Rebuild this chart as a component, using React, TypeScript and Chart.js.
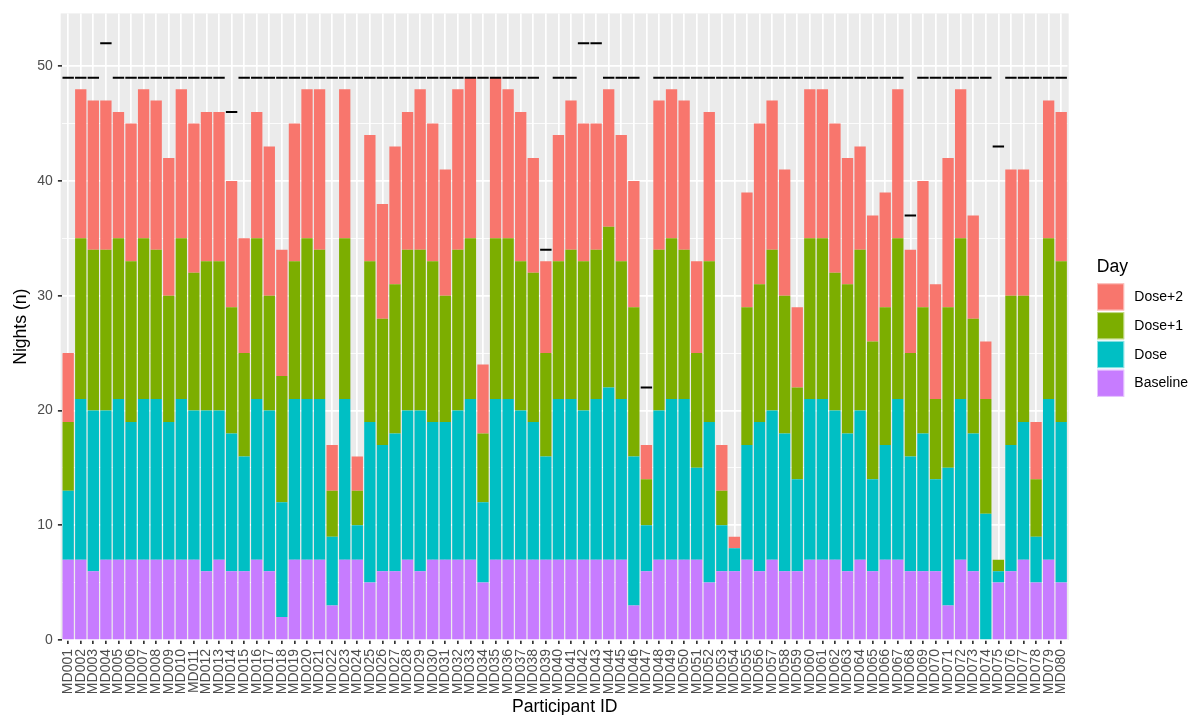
import React, { useEffect, useRef } from 'react';
import { Chart, registerables } from 'chart.js';

Chart.register(...registerables);

const participants = [
  'MD001','MD002','MD003','MD004','MD005','MD006','MD007','MD008','MD009','MD010',
  'MD011','MD012','MD013','MD014','MD015','MD016','MD017','MD018','MD019','MD020',
  'MD021','MD022','MD023','MD024','MD025','MD026','MD027','MD028','MD029','MD030',
  'MD031','MD032','MD033','MD034','MD035','MD036','MD037','MD038','MD039','MD040',
  'MD041','MD042','MD043','MD044','MD045','MD046','MD047','MD048','MD049','MD050',
  'MD051','MD052','MD053','MD054','MD055','MD056','MD057','MD058','MD059','MD060',
  'MD061','MD062','MD063','MD064','MD065','MD066','MD067','MD068','MD069','MD070',
  'MD071','MD072','MD073','MD074','MD075','MD076','MD077','MD078','MD079','MD080',
];

const baseline = [
  7,7,6,7,7,7,7,7,7,7, 7,6,7,6,6,7,6,2,7,7,
  7,3,7,7,5,6,6,7,6,7, 7,7,7,5,7,7,7,7,7,7,
  7,7,7,7,7,3,6,7,7,7, 7,5,6,6,7,6,7,6,6,7,
  7,7,6,7,6,7,7,6,6,6, 3,7,6,0,5,6,7,5,7,5,
];

const dose = [
  6,14,14,13,14,12,14,14,12,14, 13,14,13,12,10,14,14,10,14,14,
  14,6,14,3,14,11,12,13,14,12, 12,13,14,7,14,14,13,12,9,14,
  14,13,14,15,14,13,4,13,14,14, 8,14,4,2,10,13,13,12,8,14,
  14,13,12,13,8,10,14,10,12,8, 12,14,12,11,1,11,12,4,14,14,
];

const dosePlus1 = [
  6,14,14,14,14,14,14,13,11,14, 12,13,13,11,9,14,10,11,12,14,
  13,4,14,3,14,11,13,14,14,14, 11,14,14,6,14,14,13,13,9,12,
  13,13,13,14,12,13,4,14,14,13, 10,14,3,0,12,12,14,12,8,14,
  14,12,13,14,12,12,14,9,11,7, 14,14,10,10,1,13,11,5,14,14,
];

const dosePlus2 = [
  6,13,13,13,11,12,13,13,12,13, 13,13,13,11,10,11,13,11,12,13,
  14,4,13,3,11,10,12,12,14,12, 11,14,14,6,14,13,13,10,8,11,
  13,12,11,12,11,11,3,13,13,13, 8,13,4,1,10,14,13,11,7,13,
  13,13,11,9,11,10,13,9,11,10, 13,13,9,5,0,11,11,5,12,13,
];

const expectedNights = [
  49,49,49,52,49,49,49,49,49,49, 49,49,49,46,49,49,49,49,49,49,
  49,49,49,49,49,49,49,49,49,49, 49,49,49,49,49,49,49,49,34,49,
  49,52,52,49,49,49,22,49,49,49, 49,49,49,49,49,49,49,49,49,49,
  49,49,49,49,49,49,49,37,49,49, 49,49,49,49,43,49,49,49,49,49,
];

const yTicks = [0, 5, 10, 15, 20, 25, 30, 35, 40, 45, 50];

const seriesNames = ['Baseline', 'Dose', 'Dose+1', 'Dose+2'];
const seriesColors = ['#C77CFF', '#00BFC4', '#7CAE00', '#F8766D'];

const FONT = '"Liberation Sans", Arial, Helvetica, sans-serif';

const panelBackground = {
  id: 'panelBackground',
  beforeDraw(chart: any) {
    const { ctx, chartArea: a } = chart;
    ctx.save();
    ctx.fillStyle = '#FFFFFF';
    ctx.fillRect(0, 0, chart.width, chart.height);
    ctx.fillStyle = '#EBEBEB';
    ctx.fillRect(a.left - 1.2, a.top, a.right - a.left + 2.4, a.bottom - a.top);
    ctx.restore();
  },
};

const dayLegend = {
  id: 'dayLegend',
  afterDraw(chart: any) {
    const { ctx } = chart;
    ctx.save();
    ctx.fillStyle = '#000000';
    ctx.font = `17.6px ${FONT}`;
    ctx.textAlign = 'left';
    ctx.textBaseline = 'alphabetic';
    ctx.fillText('Day', 1096.7, 271.5);
    const order = [3, 2, 1, 0];
    order.forEach((si, i) => {
      const top = 283.3 + i * 28.8;
      ctx.fillStyle = seriesColors[si];
      ctx.fillRect(1097, top, 27.2, 27.2);
      ctx.strokeStyle = 'rgba(255,255,255,0.55)';
      ctx.lineWidth = 1;
      ctx.strokeRect(1097.5, top + 0.5, 26.2, 26.2);
      ctx.fillStyle = '#000000';
      ctx.font = `14px ${FONT}`;
      ctx.textBaseline = 'middle';
      ctx.fillText(seriesNames[si], 1134.3, top + 13.8);
    });
    ctx.restore();
  },
};

export default function App() {
  const canvasRef = useRef<HTMLCanvasElement | null>(null);

  useEffect(() => {
    if (!canvasRef.current) return;
    Chart.defaults.font.family = FONT;
    const seriesData = [baseline, dose, dosePlus1, dosePlus2];
    const barSets = seriesNames.map((name, i) => ({
      type: 'bar' as const,
      label: name,
      data: seriesData[i],
      backgroundColor: seriesColors[i],
      borderWidth: 0,
      barPercentage: 0.9,
      categoryPercentage: 1.0,
      order: 1,
    }));
    const chart = new Chart(canvasRef.current, {
      type: 'bar',
      data: {
        labels: participants,
        datasets: [
          ...barSets,
          {
            type: 'line' as const,
            label: 'Expected',
            data: expectedNights,
            showLine: false,
            pointStyle: 'line',
            pointRadius: 5.7,
            pointHoverRadius: 5.7,
            pointBorderWidth: 2,
            pointBorderColor: '#000000',
            pointBackgroundColor: '#000000',
            stack: 'target',
            order: 0,
          } as any,
        ],
      },
      options: {
        responsive: false,
        animation: false,
        devicePixelRatio: 1,
        events: [],
        layout: { padding: { top: 12.3, right: 124.5, bottom: 0, left: 0 } },
        plugins: {
          legend: { display: false },
          tooltip: { enabled: false },
        },
        scales: {
          x: {
            stacked: true,
            offset: true,
            afterFit: (scale: any) => { scale.height = 75; },
            grid: {
              color: '#FFFFFF',
              lineWidth: 1.7,
              offset: false,
              drawTicks: true,
              tickLength: 4,
              tickColor: '#333333',
              tickWidth: 1.7,
            },
            border: { display: false },
            ticks: {
              autoSkip: false,
              maxRotation: 90,
              minRotation: 90,
              padding: 5,
              color: '#4D4D4D',
              font: { size: 14, family: FONT },
            },
            title: {
              display: true,
              text: 'Participant ID',
              color: '#000000',
              font: { size: 17.6, family: FONT },
              padding: { top: 0, bottom: -3 },
            },
          },
          y: {
            stacked: true,
            min: 0,
            max: 54.6,
            afterFit: (scale: any) => { scale.width = 61.9; },
            afterBuildTicks: (scale: any) => {
              scale.ticks = yTicks.map((v) => ({ value: v }));
            },
            grid: {
              color: '#FFFFFF',
              lineWidth: (c: any) => (c.tick && c.tick.value % 10 === 0 ? 1.7 : 0.85),
              drawTicks: true,
              tickLength: 4,
              tickColor: (c: any) => (c.tick && c.tick.value % 10 === 0 ? '#333333' : 'rgba(0,0,0,0)'),
              tickWidth: 1.7,
            },
            border: { display: false },
            ticks: {
              padding: 5,
              color: '#4D4D4D',
              font: { size: 14, family: FONT },
              callback: (v: any) => (Number(v) % 10 === 0 ? String(v) : ''),
            },
            title: {
              display: true,
              text: 'Nights (n)',
              color: '#000000',
              font: { size: 17.6, family: FONT },
              padding: { top: 10.6, bottom: 0 },
            },
          },
        },
      },
      plugins: [panelBackground, dayLegend],
    });
    return () => chart.destroy();
  }, []);

  return (
    <div style={{ position: 'fixed', left: 0, top: 0, width: 1192, height: 715, background: '#FFFFFF' }}>
      <canvas ref={canvasRef} width={1192} height={715} style={{ display: 'block', width: 1192, height: 715 }} />
    </div>
  );
}
